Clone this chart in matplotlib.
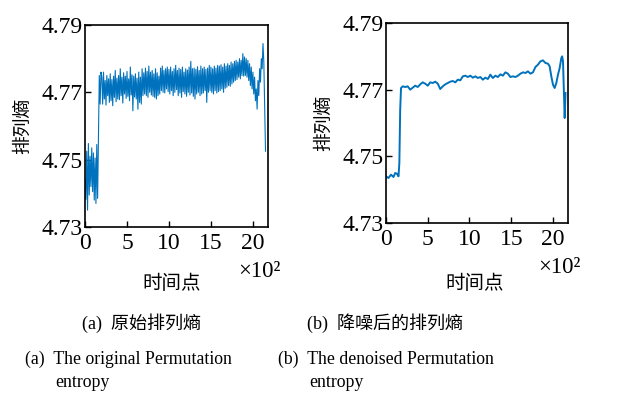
import numpy as np
import matplotlib
matplotlib.use("Agg")
import matplotlib.pyplot as plt

# -----------------------------------------------------------------------
# Data (time in units of 10^2 points)
# -----------------------------------------------------------------------
RAW_STEP = 0.1
raw_pe = [
    4.7440, 4.7382, 4.7525, 4.7350, 4.7548, 4.7395, 4.7510, 4.7420, 4.7535, 4.7405,
    4.7520, 4.7380, 4.7505, 4.7370, 4.7545, 4.7385, 4.7560, 4.7750, 4.7665, 4.7760,
    4.7745, 4.7665, 4.7760, 4.7680, 4.7735, 4.7662, 4.7750, 4.7690, 4.7740, 4.7670,
    4.7755, 4.7675, 4.7738, 4.7660, 4.7748, 4.7685, 4.7765, 4.7672, 4.7742, 4.7680,
    4.7750, 4.7678, 4.7770, 4.7690, 4.7745, 4.7668, 4.7758, 4.7695, 4.7748, 4.7682,
    4.7762, 4.7688, 4.7740, 4.7675, 4.7775, 4.7692, 4.7752, 4.7645, 4.7748, 4.7686,
    4.7755, 4.7680, 4.7742, 4.7650, 4.7760, 4.7670, 4.7745, 4.7665, 4.7770, 4.7690,
    4.7758, 4.7695, 4.7772, 4.7690, 4.7762, 4.7685, 4.7778, 4.7700, 4.7760, 4.7692,
    4.7765, 4.7688, 4.7755, 4.7685, 4.7770, 4.7680, 4.7758, 4.7690, 4.7748, 4.7695,
    4.7772, 4.7705, 4.7778, 4.7700, 4.7765, 4.7698, 4.7770, 4.7710, 4.7775, 4.7702,
    4.7768, 4.7695, 4.7775, 4.7705, 4.7762, 4.7690, 4.7770, 4.7700, 4.7780, 4.7708,
    4.7765, 4.7690, 4.7772, 4.7698, 4.7768, 4.7685, 4.7775, 4.7702, 4.7760, 4.7695,
    4.7770, 4.7688, 4.7766, 4.7700, 4.7775, 4.7692, 4.7792, 4.7698, 4.7770, 4.7688,
    4.7772, 4.7680, 4.7768, 4.7695, 4.7776, 4.7700, 4.7765, 4.7690, 4.7778, 4.7695,
    4.7770, 4.7698, 4.7775, 4.7705, 4.7768, 4.7670, 4.7772, 4.7700, 4.7780, 4.7705,
    4.7775, 4.7700, 4.7770, 4.7695, 4.7778, 4.7705, 4.7772, 4.7698, 4.7780, 4.7702,
    4.7778, 4.7705, 4.7782, 4.7710, 4.7775, 4.7700, 4.7785, 4.7712, 4.7778, 4.7715,
    4.7785, 4.7720, 4.7780, 4.7718, 4.7790, 4.7725, 4.7785, 4.7730, 4.7792, 4.7735,
    4.7795, 4.7738, 4.7790, 4.7745, 4.7800, 4.7740, 4.7795, 4.7750, 4.7815, 4.7748,
    4.7805, 4.7750, 4.7800, 4.7745, 4.7795, 4.7735, 4.7785, 4.7720, 4.7775, 4.7710,
    4.7760, 4.7695, 4.7745, 4.7675, 4.7710, 4.7650, 4.7735, 4.7690, 4.7770, 4.7730,
    4.7800, 4.7770, 4.7845, 4.7790, 4.7660, 4.7525,
]

den_t = [0.0, 0.3, 0.6, 0.9, 1.1, 1.3, 1.5, 1.6, 1.7, 1.8,
         2.0, 2.3, 2.6, 2.9, 3.2, 3.5, 3.8, 4.1, 4.4, 4.7,
         5.0, 5.3, 5.6, 5.9, 6.2, 6.5, 6.8, 7.1, 7.4, 7.7,
         8.0, 8.3, 8.6, 8.9, 9.2, 9.5, 9.8, 10.1, 10.4, 10.7,
         11.0, 11.3, 11.6, 11.9, 12.2, 12.5, 12.8, 13.1, 13.4, 13.7,
         14.0, 14.3, 14.6, 14.9, 15.2, 15.5, 15.8, 16.1, 16.4, 16.7,
         17.0, 17.3, 17.6, 17.9, 18.2, 18.5, 18.8, 19.1, 19.4, 19.6,
         19.8, 20.0, 20.2, 20.4, 20.6, 20.8, 21.0, 21.1, 21.2, 21.3,
         21.4, 21.5]
den_pe = [4.7440, 4.7435, 4.7445, 4.7438, 4.7450, 4.7448, 4.7440, 4.7480, 4.7640, 4.7705,
          4.7710, 4.7708, 4.7710, 4.7700, 4.7706, 4.7712, 4.7708, 4.7716, 4.7722, 4.7718,
          4.7712, 4.7722, 4.7720, 4.7724, 4.7718, 4.7702, 4.7710, 4.7716, 4.7720, 4.7724,
          4.7726, 4.7722, 4.7730, 4.7728, 4.7740, 4.7742, 4.7738, 4.7742, 4.7736, 4.7740,
          4.7735, 4.7738, 4.7730, 4.7736, 4.7732, 4.7745, 4.7735, 4.7742, 4.7738, 4.7746,
          4.7742, 4.7752, 4.7748, 4.7738, 4.7740, 4.7738, 4.7742, 4.7748, 4.7752, 4.7750,
          4.7755, 4.7748, 4.7752, 4.7768, 4.7775, 4.7785, 4.7788, 4.7780, 4.7778, 4.7770,
          4.7740, 4.7715, 4.7705, 4.7720, 4.7745, 4.7765, 4.7795, 4.7800, 4.7785, 4.7700,
          4.7615, 4.7690]

x_ticks = [0, 5, 10, 15, 20]
y_ticks = [4.73, 4.75, 4.77, 4.79]

LINE_COLOR = "#0072BD"
SERIF = ["Liberation Serif", "DejaVu Serif"]
CJK = ["Noto Sans CJK SC", "DejaVu Sans"]
MIXED = ["Liberation Serif", "Noto Sans CJK SC"]

plt.rcParams["font.family"] = SERIF

fig = plt.figure(figsize=(6.17, 3.94), dpi=100, facecolor="white")
ax1 = fig.add_axes([0.1378, 0.4239, 0.2966, 0.5127])
ax2 = fig.add_axes([0.6256, 0.4340, 0.2950, 0.5076])

raw_t = np.arange(len(raw_pe)) * RAW_STEP
ax1.plot(raw_t, raw_pe, color=LINE_COLOR, lw=0.8)
ax2.plot(den_t, den_pe, color=LINE_COLOR, lw=1.4)

for ax in (ax1, ax2):
    ax.set_xlim(0, 21.8)
    ax.set_ylim(4.73, 4.79)
    ax.set_xticks(x_ticks)
    ax.set_yticks(y_ticks)
    ax.set_yticklabels([f"{v:.2f}" for v in y_ticks])
    ax.tick_params(direction="in", length=4, width=1.0, labelsize=17, pad=2,
                   top=False, right=False)
    ax.tick_params(axis="x", pad=4)
    for s in ax.spines.values():
        s.set_linewidth(1.2)
    ax.set_ylabel("排列熵", family=CJK, fontsize=13.5, labelpad=6)

# x-axis multiplier and labels
fig.text(0.386, 0.312, "×10²", fontsize=16.5, ha="left", va="center")
fig.text(0.872, 0.322, "×10²", fontsize=16.5, ha="left", va="center")
fig.text(0.279, 0.280, "时间点", family=CJK, fontsize=14, ha="center", va="center")
fig.text(0.770, 0.280, "时间点", family=CJK, fontsize=14, ha="center", va="center")

# sub-captions
fig.text(0.229, 0.180, "(a)  原始排列熵", family=MIXED,
         fontsize=13, ha="center", va="center")
fig.text(0.624, 0.180, "(b)  降噪后的排列熵", family=MIXED,
         fontsize=13, ha="center", va="center")
fig.text(0.040, 0.088, "(a)  The original Permutation", fontsize=12.8, ha="left", va="center")
fig.text(0.089, 0.030, "entropy", fontsize=12.8, ha="left", va="center")
fig.text(0.450, 0.088, "(b)  The denoised Permutation", fontsize=12.8, ha="left", va="center")
fig.text(0.502, 0.030, "entropy", fontsize=12.8, ha="left", va="center")

fig.savefig("out.png", dpi=100, facecolor="white")
